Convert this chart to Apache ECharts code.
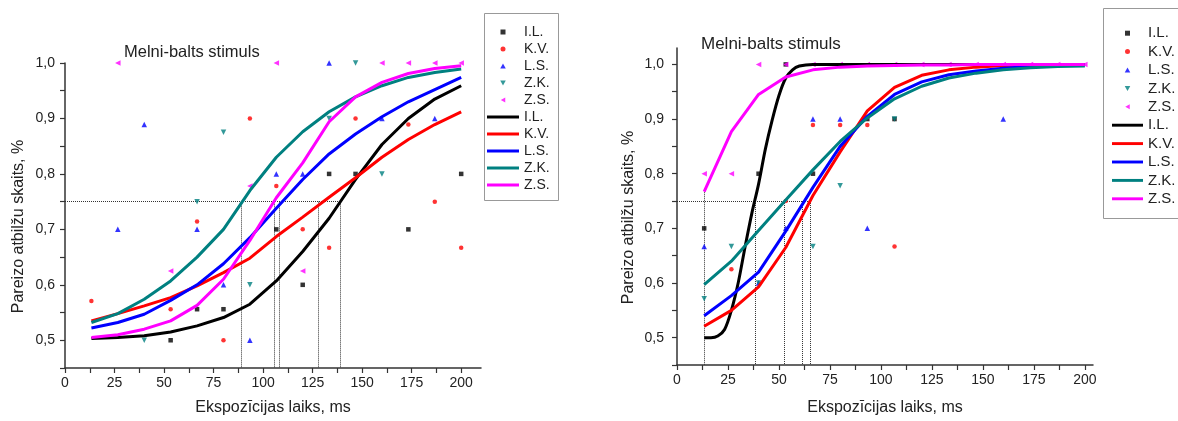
<!DOCTYPE html>
<html><head><meta charset="utf-8">
<script src="https://cdn.jsdelivr.net/npm/echarts@6/dist/echarts.min.js"></script>
<style>html,body{margin:0;padding:0;background:#fff}#c{width:1178px;height:421px}</style>
</head><body><div id="c"></div>
<script>
const names = ['I.L.', 'K.V.', 'L.S.', 'Z.K.', 'Z.S.'];
const colors = ['#000000', '#ff0000', '#0000ff', '#008080', '#ff00ff'];
const symbols = ['rect', 'circle', 'triangle', 'triangle', 'triangle'];
const rotations = [0, 0, 0, 180, 90];
const legendIcons = ['path://M0,0H10V10H0Z', 'circle', 'path://M5,0L10,9L0,9Z', 'path://M0,0L10,0L5,9Z', 'path://M9,0L9,10L0,5Z'];
const xLabels = [0, 25, 50, 75, 100, 125, 150, 175, 200];
const xTickVals = [0, 12.5, 25, 37.5, 50, 62.5, 75, 87.5, 100, 112.5, 125, 137.5, 150, 162.5, 175, 187.5, 200];
const yLabels = [0.5, 0.6, 0.7, 0.8, 0.9, 1.0];
const yTickVals = [0.45, 0.5, 0.55, 0.6, 0.65, 0.7, 0.75, 0.8, 0.85, 0.9, 0.95, 1.0];
const titleText = 'Melni-balts stimuls';
const xName = 'Ekspozīcijas laiks, ms';
const yName = 'Pareizo atbilžu skaits, %';

// exposure times used by the fitted curves
const xs = [13.33, 26.67, 40, 53.33, 66.67, 80, 93.33, 106.67, 120, 133.33, 146.67, 160, 173.33, 186.67, 200];

// ---- left panel: measured points ----
const leftPtsIL = [[53.33,0.5],[66.67,0.556],[80,0.556],[106.67,0.7],[120,0.6],[133.33,0.8],[146.67,0.8],[173.33,0.7],[200,0.8]];
const leftPtsKV = [[13.33,0.571],[53.33,0.556],[66.67,0.714],[80,0.5],[93.33,0.9],[106.67,0.778],[120,0.7],[133.33,0.667],[146.67,0.9],[173.33,0.889],[186.67,0.75],[200,0.667]];
const leftPtsLS = [[26.67,0.7],[40,0.889],[66.67,0.7],[80,0.6],[93.33,0.5],[106.67,0.8],[120,0.8],[133.33,1.0],[160,0.9],[186.67,0.9]];
const leftPtsZK = [[40,0.5],[66.67,0.75],[80,0.875],[93.33,0.6],[133.33,0.9],[146.67,1.0],[160,0.8]];
const leftPtsZS = [[26.67,1.0],[53.33,0.625],[93.33,0.778],[106.67,1.0],[120,0.625],[160,1.0],[173.33,1.0],[186.67,1.0],[200,1.0]];
// ---- left panel: fitted curves (at xs) ----
const leftFitIL = [0.503,0.505,0.508,0.515,0.526,0.541,0.565,0.607,0.66,0.72,0.79,0.853,0.9,0.935,0.959];
const leftFitKV = [0.535,0.548,0.562,0.577,0.598,0.622,0.648,0.687,0.722,0.758,0.793,0.83,0.862,0.889,0.912];
const leftFitLS = [0.522,0.532,0.547,0.572,0.6,0.638,0.685,0.738,0.79,0.836,0.872,0.903,0.93,0.952,0.974];
const leftFitZK = [0.532,0.548,0.574,0.607,0.65,0.70,0.77,0.83,0.876,0.912,0.939,0.959,0.974,0.983,0.989];
const leftFitZS = [0.505,0.51,0.52,0.535,0.563,0.61,0.68,0.757,0.82,0.894,0.939,0.965,0.981,0.99,0.995];
// 75 % threshold crossings (left)
const leftCross = [89.2, 105.7, 108.2, 127.6, 138.9];

// ---- right panel: measured points ----
const rightPtsIL = [[13.33,0.7],[40,0.8],[53.33,1.0],[66.67,0.8],[93.33,0.9],[106.67,0.9]];
const rightPtsKV = [[26.67,0.625],[53.33,0.75],[66.67,0.889],[80,0.889],[93.33,0.889],[106.67,0.667]];
const rightPtsLS = [[13.33,0.667],[40,0.6],[53.33,0.7],[66.67,0.9],[80,0.9],[93.33,0.7],[160,0.9]];
const rightPtsZK = [[13.33,0.571],[26.67,0.667],[40,0.6],[66.67,0.667],[80,0.778],[106.67,0.9]];
const rightPtsZS = [[13.33,0.8],[26.67,0.8],[40,1.0],[53.33,1.0],[66.67,1.0],[80,1.0],[93.33,1.0],[106.67,1.0],[120,1.0],[133.33,1.0],[146.67,1.0],[160,1.0],[173.33,1.0],[186.67,1.0],[200,1.0]];
// ---- right panel: fitted curves ----
const rightILx = [13.33,16.67,20,23.33,26.67,30,33.33,36.67,40,43.33,46.67,50,53.33,56.67,60,66.67,80,93.33,106.67,120,133.33,146.67,160,173.33,186.67,200];
const rightFitIL = [0.5,0.5,0.503,0.515,0.55,0.6,0.665,0.727,0.781,0.845,0.898,0.943,0.975,0.99,0.997,1.0,1.0,1.0,1.0,1.0,1.0,1.0,1.0,1.0,1.0,1.0];
const rightFitKV = [0.521,0.55,0.593,0.665,0.76,0.84,0.915,0.958,0.98,0.99,0.995,0.998,0.999,1.0,1.0];
const rightFitLS = [0.54,0.577,0.62,0.695,0.775,0.85,0.905,0.945,0.968,0.981,0.988,0.993,0.996,0.998,0.999];
const rightFitZK = [0.597,0.64,0.696,0.752,0.807,0.859,0.902,0.937,0.96,0.975,0.984,0.99,0.994,0.996,0.997];
const rightFitZS = [0.767,0.877,0.945,0.977,0.99,0.995,0.997,0.998,0.999,0.999,1.0,1.0,1.0,1.0,1.0];
// 75 % threshold crossings (right) and top of each drop line
const rightCross = [13.33, 38.2, 52.5, 61.6, 65.2];
const rightCrossTop = [0.767, 0.75, 0.75, 0.75, 0.75];
const threshold = 0.75;

const FONT = 'Liberation Sans, Arial, sans-serif';
const TXT = '#222';

const panels = [
  {pts: [leftPtsIL, leftPtsKV, leftPtsLS, leftPtsZK, leftPtsZS],
   fitX: [xs, xs, xs, xs, xs],
   fit: [leftFitIL, leftFitKV, leftFitLS, leftFitZK, leftFitZS],
   smooth: [0, 0, 0, 0, 0],
   cross: leftCross, crossTop: leftCross.map(() => threshold)},
  {pts: [rightPtsIL, rightPtsKV, rightPtsLS, rightPtsZK, rightPtsZS],
   fitX: [rightILx, xs, xs, xs, xs],
   fit: [rightFitIL, rightFitKV, rightFitLS, rightFitZK, rightFitZS],
   smooth: [0.3, 0, 0, 0, 0],
   cross: rightCross, crossTop: rightCrossTop}
];

const series = [];
panels.forEach((p, pi) => {
  names.forEach((n, i) => {
    series.push({
      type: 'scatter', name: n, xAxisIndex: pi, yAxisIndex: pi,
      data: p.pts[i], symbol: symbols[i], symbolRotate: rotations[i],
      symbolSize: symbols[i] === 'triangle' ? 5.5 : 4.5,
      itemStyle: {color: colors[i]}, z: 2, clip: false
    });
  });
  names.forEach((n, i) => {
    const s = {
      type: 'line', name: n + ' ', xAxisIndex: pi, yAxisIndex: pi,
      data: p.fitX[i].map((x, k) => [x, p.fit[i][k]]),
      symbol: 'none', showSymbol: false, smooth: p.smooth[i] || false,
      lineStyle: {color: colors[i], width: 3}, itemStyle: {color: colors[i]}, z: 3
    };
    if (i === 0) {
      const lines = [[{coord: [0, threshold]}, {coord: [p.cross[p.cross.length - 1], threshold]}]];
      p.cross.forEach((c, k) => lines.push([{coord: [c, p.crossTop[k]]}, {coord: [c, 0.45]}]));
      s.markLine = {silent: true, symbol: 'none', label: {show: false},
        lineStyle: {color: '#333', width: 1, type: [1, 1]}, data: lines, z: 1};
    }
    series.push(s);
  });
});

const legendData = names.map((n, i) => ({name: n, icon: legendIcons[i]}))
  .concat(names.map(n => ({name: n + ' ', icon: 'path://M0,0H32V3H0Z'})));
function mkLegend(left, top, itemW, lh, fs) {
  return {
    orient: 'vertical', left: left, top: top, itemWidth: itemW, itemHeight: 5, itemGap: 0,
    data: legendData, selectedMode: false, padding: 0, symbolKeepAspect: true,
    formatter: n => n.trim(),
    textStyle: {fontSize: fs, fontFamily: FONT, color: TXT, lineHeight: lh}
  };
}

function mkX(gi, max, gap) {
  return {
    type: 'value', gridIndex: gi, min: 0, max: max,
    axisLine: {show: true, onZero: false, lineStyle: {color: '#333', width: 1.5}},
    axisTick: {show: true, customValues: xTickVals, length: 5, lineStyle: {color: '#333', width: 1.2}},
    axisLabel: {customValues: xLabels, fontSize: 14, fontFamily: FONT, color: TXT, margin: 8},
    splitLine: {show: false},
    name: xName, nameLocation: 'middle', nameGap: gap,
    nameTextStyle: {fontSize: 16, fontFamily: FONT, color: TXT}
  };
}
function mkY(gi, max, gap, margin) {
  return {
    type: 'value', gridIndex: gi, min: 0.45, max: max,
    axisLine: {show: true, onZero: false, lineStyle: {color: '#333', width: 1.5}},
    axisTick: {show: true, customValues: yTickVals, length: 5, lineStyle: {color: '#333', width: 1.2}},
    axisLabel: {customValues: yLabels, fontSize: 14, fontFamily: FONT, color: TXT, margin: margin,
      formatter: v => v.toFixed(1).replace('.', ',')},
    splitLine: {show: false},
    name: yName, nameLocation: 'middle', nameGap: gap, nameRotate: 90,
    nameTextStyle: {fontSize: 16, fontFamily: FONT, color: TXT, padding: [0, 22, 0, 0]}
  };
}

const option = {
  animation: false,
  backgroundColor: '#fff',
  title: [
    {text: titleText, left: 119, top: 39, textStyle: {fontSize: 16.5, fontWeight: 'normal', fontFamily: FONT, color: TXT}},
    {text: titleText, left: 696, top: 31, textStyle: {fontSize: 17, fontWeight: 'normal', fontFamily: FONT, color: TXT}}
  ],
  grid: [
    {left: 65, top: 63, width: 416, height: 306},
    {left: 677, top: 48, width: 416, height: 318}
  ],
  xAxis: [mkX(0, 210, 32), mkX(1, 204, 35)],
  yAxis: [mkY(0, 1.0, 38, 10), mkY(1, 1.03, 40, 13)],
  legend: [mkLegend(487, 23.5, 32, 17, 14), mkLegend(1112, 24, 31, 18.4, 15)],
  graphic: [
    {type: 'rect', shape: {x: 484.5, y: 13.5, width: 74, height: 187}, style: {fill: 'none', stroke: '#999', lineWidth: 1}},
    {type: 'rect', shape: {x: 1103.5, y: 8.5, width: 80, height: 210}, style: {fill: 'none', stroke: '#999', lineWidth: 1}}
  ],
  series: series
};
const chart = echarts.init(document.getElementById('c'), null, {renderer: 'canvas'});
chart.setOption(option);
</script></body></html>
